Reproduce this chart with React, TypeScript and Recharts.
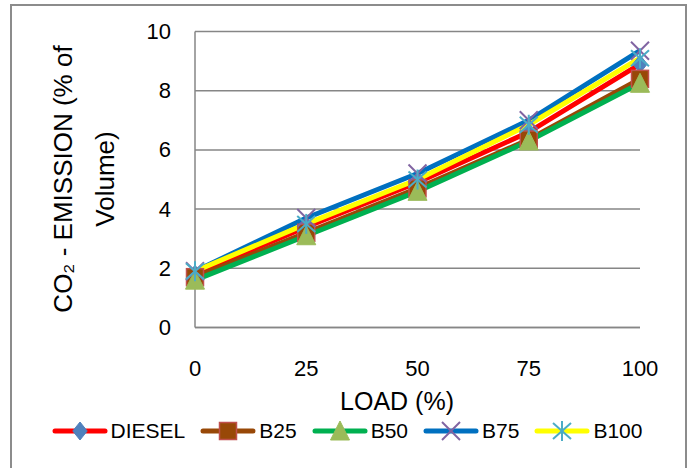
import React from 'react';
import { LineChart, Line, XAxis, YAxis, CartesianGrid } from 'recharts';

const loads = [0, 25, 50, 75, 100];
const diesel = [1.8, 3.4, 4.9, 6.6, 8.9];
const b25 = [1.7, 3.2, 4.7, 6.35, 8.4];
const b50 = [1.6, 3.1, 4.6, 6.3, 8.25];
const b75 = [1.9, 3.7, 5.2, 7.0, 9.35];
const b100 = [1.9, 3.5, 5.0, 6.85, 9.1];
const yTicks = [0, 2, 4, 6, 8, 10];
const seriesNames = ['DIESEL', 'B25', 'B50', 'B75', 'B100'];

const data = loads.map((l, i) => ({
  load: l,
  DIESEL: diesel[i],
  B25: b25[i],
  B50: b50[i],
  B75: b75[i],
  B100: b100[i],
}));

const FONT = '"Liberation Sans", Arial, sans-serif';

type MarkerKind = 'diamond' | 'square' | 'triangle' | 'x' | 'star';

const lineColors: Record<string, string> = {
  DIESEL: '#FF0000',
  B25: '#984807',
  B50: '#00B050',
  B75: '#0070C0',
  B100: '#FFFF00',
};
const markerKinds: Record<string, MarkerKind> = {
  DIESEL: 'diamond',
  B25: 'square',
  B50: 'triangle',
  B75: 'x',
  B100: 'star',
};

function Marker({ kind, cx, cy }: { kind: MarkerKind; cx: number; cy: number }) {
  const s = 9;
  switch (kind) {
    case 'diamond':
      return (
        <polygon
          points={`${cx},${cy - s} ${cx + s * 0.8},${cy} ${cx},${cy + s} ${cx - s * 0.8},${cy}`}
          fill="#4F81BD"
          stroke="#4F81BD"
          strokeWidth={1}
        />
      );
    case 'square':
      return (
        <rect x={cx - 8.5} y={cy - 8.5} width={17} height={17} fill="#984807" stroke="#C0504D" strokeWidth={1.5} />
      );
    case 'triangle':
      return (
        <polygon
          points={`${cx},${cy - 10} ${cx + 9.5},${cy + 9} ${cx - 9.5},${cy + 9}`}
          fill="#9BBB59"
          stroke="#9BBB59"
          strokeWidth={1}
        />
      );
    case 'x':
      return (
        <g stroke="#8064A2" strokeWidth={2}>
          <line x1={cx - 9} y1={cy - 9} x2={cx + 9} y2={cy + 9} />
          <line x1={cx - 9} y1={cy + 9} x2={cx + 9} y2={cy - 9} />
        </g>
      );
    case 'star':
      return (
        <g stroke="#4BACC6" strokeWidth={2}>
          <line x1={cx} y1={cy - 10} x2={cx} y2={cy + 10} />
          <line x1={cx - 9} y1={cy - 8} x2={cx + 9} y2={cy + 8} />
          <line x1={cx - 9} y1={cy + 8} x2={cx + 9} y2={cy - 8} />
        </g>
      );
  }
  return null;
}

const makeDot = (name: string) => (props: any) => {
  const { cx, cy, index } = props;
  if (cx == null || cy == null) return <g key={`${name}-${index}`} />;
  return (
    <g key={`${name}-${index}`}>
      <Marker kind={markerKinds[name]} cx={cx} cy={cy} />
    </g>
  );
};

const XTick = (props: any) => {
  const { x, payload } = props;
  return (
    <text x={x} y={368} textAnchor="middle" dominantBaseline="central" fontFamily={FONT} fontSize={22} fill="#000">
      {payload.value}
    </text>
  );
};

const YTick = (props: any) => {
  const { y, payload } = props;
  return (
    <text x={171} y={y} textAnchor="end" dominantBaseline="central" fontFamily={FONT} fontSize={22} fill="#000">
      {payload.value}
    </text>
  );
};

const YLabel = () => (
  <g fontFamily={FONT} fontSize={26} fill="#000">
    <text x={63} y={179} transform="rotate(-90 63 179)" textAnchor="middle" dominantBaseline="central">
      CO₂ - EMISSION (% of
    </text>
    <text x={105} y={179} transform="rotate(-90 105 179)" textAnchor="middle" dominantBaseline="central">
      Volume)
    </text>
  </g>
);

const XLabel = () => (
  <text x={397} y={401} textAnchor="middle" dominantBaseline="central" fontFamily={FONT} fontSize={25} fill="#000">
    LOAD (%)
  </text>
);

const LegendBox = () => (
  <div
    style={{
      position: 'absolute',
      top: 418,
      left: 0,
      width: 694,
      height: 26,
      display: 'flex',
      justifyContent: 'center',
      alignItems: 'center',
      fontFamily: FONT,
      fontSize: 21,
      color: '#000',
      gap: 15,
    }}
  >
    {seriesNames.map((n) => (
      <div key={n} style={{ display: 'flex', alignItems: 'center' }}>
        <svg width={56} height={24} style={{ display: 'block' }}>
          <line x1={3} y1={12} x2={53} y2={12} stroke={lineColors[n]} strokeWidth={5} strokeLinecap="round" />
          <Marker kind={markerKinds[n]} cx={28} cy={12} />
        </svg>
        <span style={{ marginLeft: 3 }}>{n}</span>
      </div>
    ))}
  </div>
);

export default function App() {
  return (
    <div style={{ position: 'absolute', left: 0, top: 0, width: 694, height: 468, background: '#fff' }}>
      <div
        style={{
          position: 'absolute',
          left: 10,
          top: 4,
          width: 677,
          height: 480,
          border: '2px solid #8C8C8C',
          boxSizing: 'border-box',
        }}
      />
      <LineChart
        width={694}
        height={468}
        data={data}
        margin={{ top: 31.5, right: 54, left: 0, bottom: 0 }}
        style={{ position: 'absolute', left: 0, top: 0 }}
      >
        <CartesianGrid vertical={false} stroke="#868686" strokeWidth={1.5} />
        <XAxis
          dataKey="load"
          type="number"
          domain={[0, 100]}
          ticks={loads}
          height={140.5}
          axisLine={{ stroke: '#868686', strokeWidth: 1.5 }}
          tickLine={false}
          tick={<XTick />}
          label={<XLabel />}
          interval={0}
        />
        <YAxis
          type="number"
          domain={[0, 10]}
          ticks={yTicks}
          width={195}
          axisLine={{ stroke: '#868686', strokeWidth: 1.5 }}
          tickLine={false}
          tick={<YTick />}
          label={<YLabel />}
          interval={0}
        />
        {seriesNames.map((n) => (
          <Line
            key={n}
            type="linear"
            dataKey={n}
            stroke={lineColors[n]}
            strokeWidth={5}
            dot={makeDot(n)}
            activeDot={false}
            isAnimationActive={false}
          />
        ))}
      </LineChart>
      <LegendBox />
    </div>
  );
}
